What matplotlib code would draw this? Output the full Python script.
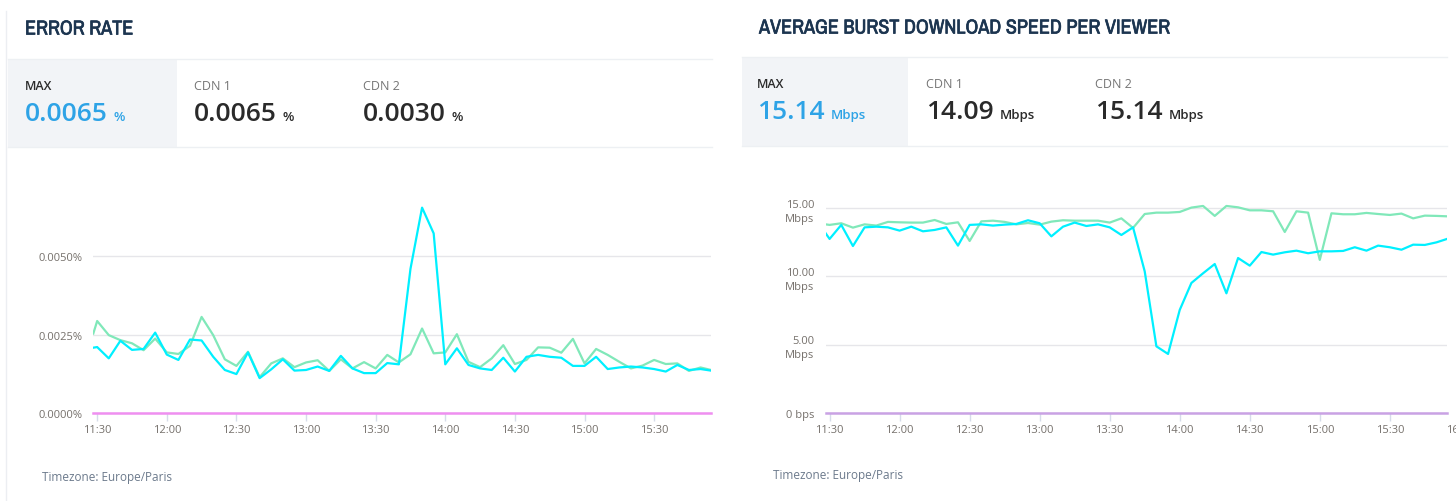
import matplotlib
matplotlib.use("Agg")
import matplotlib.pyplot as plt
import matplotlib.patheffects as pe
import pandas as pd
from matplotlib import font_manager
from matplotlib.patches import Rectangle
from matplotlib.lines import Line2D

W, H = 1456, 502

# time axis: one partial point at the left edge, then every 5 minutes, then the right edge
times = ([pd.Timestamp("2024-01-01 11:28:20")]
         + list(pd.date_range("2024-01-01 11:30", "2024-01-01 15:50", freq="5min"))
         + [pd.Timestamp("2024-01-01 15:54:30")])

error_cdn1 = [0.00208, 0.00210, 0.00174, 0.00230, 0.00201, 0.00204, 0.00256, 0.00186, 0.00169,
              0.00234, 0.00231, 0.00179, 0.00137, 0.00124, 0.00193, 0.00111, 0.00139, 0.00171,
              0.00135, 0.00137, 0.00148, 0.00134, 0.00182, 0.00142, 0.00127, 0.00127, 0.00159,
              0.00155, 0.00459, 0.00654, 0.00572, 0.00155, 0.00206, 0.00153, 0.00142, 0.00137,
              0.00176, 0.00132, 0.00179, 0.00185, 0.00179, 0.00176, 0.00150, 0.00150, 0.00179,
              0.00140, 0.00145, 0.00148, 0.00145, 0.00140, 0.00132, 0.00153, 0.00137, 0.00140,
              0.00135]
error_cdn2 = [0.00253, 0.00293, 0.00248, 0.00232, 0.00222, 0.00200, 0.00237, 0.00193, 0.00188,
              0.00214, 0.00306, 0.00248, 0.00171, 0.00150, 0.00195, 0.00114, 0.00158, 0.00174,
              0.00146, 0.00161, 0.00168, 0.00134, 0.00171, 0.00142, 0.00162, 0.00142, 0.00185,
              0.00161, 0.00187, 0.00269, 0.00190, 0.00193, 0.00251, 0.00163, 0.00146, 0.00174,
              0.00216, 0.00156, 0.00169, 0.00209, 0.00208, 0.00192, 0.00236, 0.00158, 0.00204,
              0.00185, 0.00163, 0.00142, 0.00151, 0.00169, 0.00156, 0.00158, 0.00134, 0.00145,
              0.00137]
error_other = [0.0] * len(times)

speed_cdn1 = [13.16, 12.75, 13.78, 12.23, 13.60, 13.65, 13.60, 13.36, 13.65, 13.31, 13.41, 13.60,
              12.26, 13.78, 13.82, 13.73, 13.80, 13.85, 14.12, 13.90, 12.94, 13.65, 13.95, 13.70,
              13.82, 13.60, 13.04, 13.60, 10.37, 4.87, 4.31, 7.54, 9.52, 10.23, 10.91, 8.76,
              11.35, 10.79, 11.79, 11.60, 11.77, 11.89, 11.70, 11.84, 11.84, 11.87, 12.14, 11.89,
              12.26, 12.14, 11.96, 12.33, 12.31, 12.50, 12.75]
speed_cdn2 = [13.82, 13.78, 13.90, 13.58, 13.82, 13.73, 14.00, 13.97, 13.95, 13.95, 14.14, 13.85,
              13.97, 12.60, 14.04, 14.09, 14.00, 13.82, 13.92, 13.80, 14.02, 14.12, 14.09, 14.09,
              14.09, 13.95, 14.26, 13.56, 14.58, 14.68, 14.68, 14.73, 15.05, 15.17, 14.44, 15.17,
              15.07, 14.85, 14.85, 14.78, 13.26, 14.78, 14.68, 11.21, 14.63, 14.56, 14.56, 14.66,
              14.58, 14.51, 14.61, 14.26, 14.46, 14.44, 14.41]
speed_other = [0.0] * len(times)

x_ticks = ["11:30", "12:00", "12:30", "13:00", "13:30", "14:00", "14:30", "15:00", "15:30"]
error_ticks = [0.0, 0.0025, 0.005]
speed_ticks = [0, 5, 10, 15]
speed_tick_labels = ["0 bps", "5.00\nMbps", "10.00\nMbps", "15.00\nMbps"]

error_stats = [("MAX", "0.0065"), ("CDN 1", "0.0065"), ("CDN 2", "0.0030")]
speed_stats = [("MAX", "15.14"), ("CDN 1", "14.09"), ("CDN 2", "15.14")]

CYAN = "#00f0ff"
GREEN = "#80e8b9"
BLUE = "#2ea3e6"
NAVY = "#1c3550"
TICK = "#75706b"

names = {f.name for f in font_manager.fontManager.ttflist}
narrow = sorted(n for n in names if "Condensed" in n or "Narrow" in n)
if narrow:
    title_font, title_size = narrow[0], 14.5
elif "Roboto" in names:
    title_font, title_size = "Roboto", 13.5
else:
    title_font, title_size = "DejaVu Sans", 11.5
body_font = "Open Sans" if "Open Sans" in names else "DejaVu Sans"
plt.rcParams["font.family"] = [body_font, "DejaVu Sans"]

fig = plt.figure(figsize=(W / 100, H / 100), dpi=100)
renderer = fig.canvas.get_renderer()


def fx(x):
    return x / W


def fy(y):
    return 1 - y / H


def day(t):
    return pd.Timestamp("2024-01-01 " + t)


def header(x0, x1, y_top, y_bot, box_right, title, title_y, stats, unit, label_x, label_y, value_y):
    fig.text(fx(x0 + 17), fy(title_y), title, fontsize=title_size, fontweight="bold", color=NAVY,
             family=[title_font, "DejaVu Sans"], va="center",
             path_effects=[pe.withStroke(linewidth=0.5, foreground=NAVY)])
    fig.add_artist(Rectangle((fx(x0), fy(y_bot)), fx(box_right - x0), (y_bot - y_top) / H,
                             transform=fig.transFigure, color="#f2f4f7", lw=0))
    for yy in (y_top, y_bot):
        fig.add_artist(Line2D([fx(x0), fx(x1)], [fy(yy), fy(yy)], color="#edf0f3", lw=1))
    for (lab, val), lx in zip(stats, label_x):
        first = lab == "MAX"
        fig.text(fx(lx), fy(label_y), lab, fontsize=9, color="#2b2b2b" if first else "#757575",
                 va="center", fontweight="semibold" if first else "normal")
        color = BLUE if first else "#2a2a2a"
        t = fig.text(fx(lx), fy(value_y), val, fontsize=19, color=color, fontweight="semibold",
                     va="baseline")
        bb = t.get_window_extent(renderer)
        fig.text(fx(bb.x1 + 6), fy(value_y), unit, fontsize=9.5, color=color,
                 fontweight="semibold", va="baseline")


# left panel frame and header
fig.add_artist(Line2D([fx(6), fx(6)], [fy(12), 0], color="#eceef2", lw=1))
header(8, 712, 60, 148, 177, "ERROR RATE", 30, error_stats, "%", [25, 194, 363], 87, 121)
header(742, 1447, 58, 147, 908, "AVERAGE BURST DOWNLOAD SPEED PER VIEWER", 29, speed_stats,
       "Mbps", [757, 926, 1095], 85, 119)

# error rate axes
ax1 = fig.add_axes([fx(93.3), fy(414), fx(711 - 93.3), (414 - 178.5) / H])
ax1.plot(times, error_cdn2, color=GREEN, lw=1.6, zorder=3)
ax1.plot(times, error_cdn1, color=CYAN, lw=1.6, zorder=4)
ax1.plot(times, error_other, color="#ef8ff0", lw=1.8, zorder=5, clip_on=False)
ax1.set_ylim(0, 0.0075)
ax1.set_yticks(error_ticks)
ax1.set_yticklabels([f"{v:.4f}%" for v in error_ticks])

# speed axes
ax2 = fig.add_axes([fx(825.7), fy(413.7), fx(1447 - 825.7), (413.7 - 201.1) / H])
ax2.plot(times, speed_cdn2, color=GREEN, lw=1.6, zorder=3)
ax2.plot(times, speed_cdn1, color=CYAN, lw=1.6, zorder=4)
ax2.plot(times, speed_other, color="#c9a2e4", lw=1.8, zorder=5, clip_on=False)
ax2.set_ylim(0, 15.6)
ax2.set_yticks(speed_ticks)
ax2.set_yticklabels(speed_tick_labels)
for lab in ax2.get_yticklabels():
    lab.set_linespacing(1.35)
    lab.set_multialignment("right")

for ax in (ax1, ax2):
    ax.set_xlim(times[0], times[-1])
    ax.set_xticks([day(t) for t in x_ticks])
    ax.set_xticklabels(x_ticks)
    for s in ax.spines.values():
        s.set_visible(False)
    ax.grid(axis="y", color="#e6e6ea", lw=1)
    ax.set_axisbelow(True)
    ax.tick_params(axis="x", length=6, width=1, color="#d6dcea", pad=2, labelsize=8,
                   labelcolor=TICK)
    ax.tick_params(axis="y", length=0, pad=8, labelsize=8, labelcolor=TICK)

# label of the next tick, cut by the picture edge as in the screenshot
ax2.text(day("16:00"), -0.055, "16:00", transform=ax2.get_xaxis_transform(), ha="center",
         va="top", fontsize=8, color=TICK, clip_on=False)

fig.text(fx(42), fy(478), "Timezone: Europe/Paris", fontsize=8.5, color="#6c7a8c", va="center")
fig.text(fx(773), fy(476), "Timezone: Europe/Paris", fontsize=8.5, color="#6c7a8c", va="center")

fig.savefig("out.png", dpi=100, facecolor="white")
